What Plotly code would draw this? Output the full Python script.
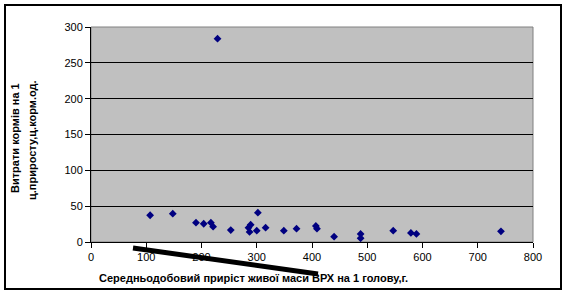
import plotly.graph_objects as go

gain = [107, 148, 190, 204, 217, 221, 229, 253, 285, 289, 287, 302, 300, 316,
        349, 372, 407, 409, 440, 488, 488, 547, 579, 589, 742]
feed = [37.3, 39.5, 27.0, 25.5, 27.0, 21.4, 283.7, 16.7, 20.0, 24.1, 14.0, 40.9,
        15.8, 20.0, 15.8, 18.6, 22.3, 18.6, 7.4, 11.2, 5.2, 15.8, 12.6, 11.2, 14.9]

x_ticks = [0, 100, 200, 300, 400, 500, 600, 700, 800]
y_ticks = [0, 50, 100, 150, 200, 250, 300]

x_title = "Середньодобовий приріст живої маси ВРХ на 1 голову,г."
y_title_1 = "Витрати кормів на 1"
y_title_2 = "ц.приросту,ц.корм.од."

FONT = "Arial, Liberation Sans, sans-serif"

# plot area in pixels
L, R, T, B = 91, 533, 27, 242
W, H = 569, 295
pw, ph = R - L, B - T


def px(x):
    return (x - L) / pw


def py(y):
    return (B - y) / ph


fig = go.Figure()
fig.add_trace(go.Scatter(
    x=gain, y=feed, mode="markers",
    marker=dict(symbol="diamond", size=6, color="#000080", line=dict(width=0)),
    hoverinfo="x+y", showlegend=False,
))

fig.update_layout(
    width=W, height=H,
    margin=dict(l=L, r=W - R, t=T, b=H - B, pad=0),
    paper_bgcolor="white",
    plot_bgcolor="#C0C0C0",
    font=dict(family=FONT, size=11, color="black"),
    xaxis=dict(
        range=[0, 800], tickvals=x_ticks, ticktext=[str(v) for v in x_ticks],
        showgrid=False, zeroline=False, showline=True, linecolor="black", linewidth=1,
        ticks="outside", ticklen=5, tickcolor="black", tickwidth=1,
        tickfont=dict(family=FONT, size=11, color="black"), fixedrange=True,
    ),
    yaxis=dict(
        range=[0, 300], tickvals=y_ticks, ticktext=[str(v) for v in y_ticks],
        showgrid=True, gridcolor="black", gridwidth=1, zeroline=False,
        showline=True, linecolor="black", linewidth=1,
        ticks="outside", ticklen=5, tickcolor="black", tickwidth=1,
        tickfont=dict(family=FONT, size=11, color="black"), fixedrange=True,
    ),
    shapes=[
        # gray plot-area frame (top/right)
        dict(type="rect", xref="paper", yref="paper", x0=0, y0=0, x1=1, y1=1,
             line=dict(color="#808080", width=1), layer="below"),
        # outer chart border
        dict(type="rect", xref="paper", yref="paper",
             x0=px(5), y0=py(289), x1=px(561), y1=py(5),
             line=dict(color="black", width=2)),
        # thick black stroke
        dict(type="line", xref="paper", yref="paper",
             x0=px(133), y0=py(248), x1=px(318), y1=py(274),
             line=dict(color="black", width=5)),
    ],
    annotations=[
        dict(text=x_title, xref="paper", yref="paper", x=px(253), y=py(278),
             showarrow=False, xanchor="center", yanchor="middle",
             font=dict(family=FONT, size=11, color="black", weight="bold")),
        dict(text=y_title_1, xref="paper", yref="paper", x=px(15), y=py(138),
             showarrow=False, xanchor="center", yanchor="middle", textangle=-90,
             font=dict(family=FONT, size=11, color="black", weight="bold")),
        dict(text=y_title_2, xref="paper", yref="paper", x=px(32), y=py(140),
             showarrow=False, xanchor="center", yanchor="middle", textangle=-90,
             font=dict(family=FONT, size=11, color="black", weight="bold")),
    ],
)

fig.write_html("out.html", config={"displayModeBar": False})
